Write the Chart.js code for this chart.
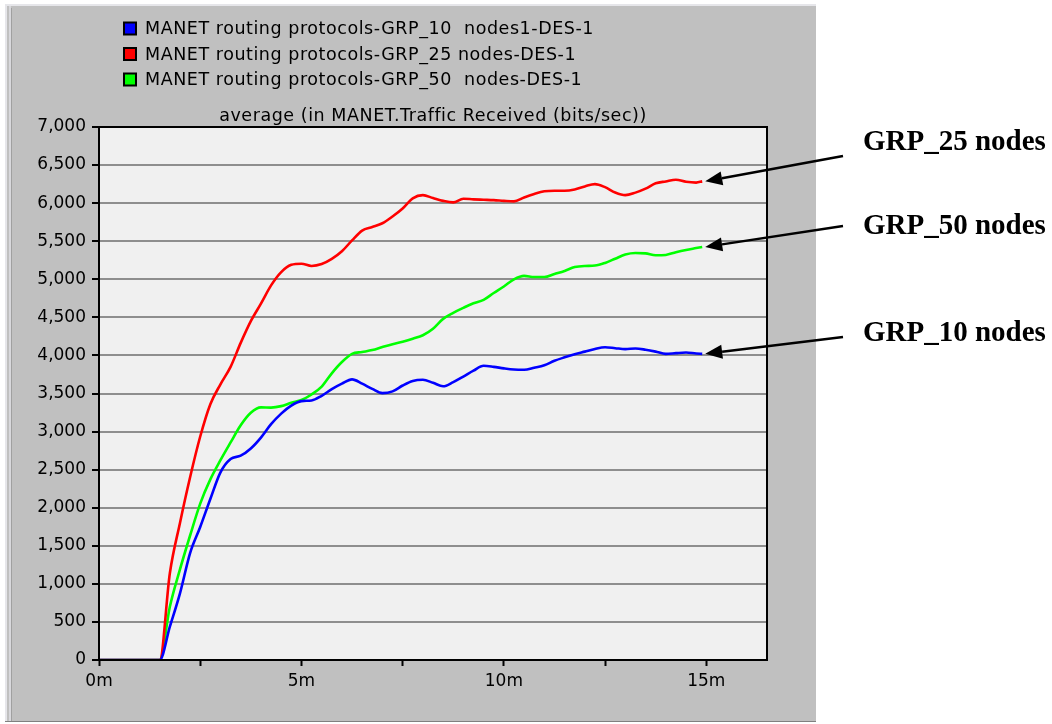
<!DOCTYPE html>
<html>
<head>
<meta charset="utf-8">
<script src="https://cdn.jsdelivr.net/npm/chart.js@4/dist/chart.umd.min.js"></script>
<style>
html,body{margin:0;padding:0;background:#fff;}
#wrap{position:relative;width:1052px;height:724px;}
</style>
</head>
<body>
<div id="wrap"><canvas id="c" width="1052" height="724"></canvas></div>
<script>
// ---- data (time in minutes, values in bits/sec) ----
const times = [0,0.25,0.5,0.75,1,1.25,1.5,1.75,2,2.25,2.5,2.75,3,3.25,3.5,3.75,4,4.25,4.5,4.75,5,5.25,5.5,5.75,6,6.25,6.5,6.75,7,7.25,7.5,7.75,8,8.25,8.5,8.75,9,9.25,9.5,9.75,10,10.25,10.5,10.75,11,11.25,11.5,11.75,12,12.25,12.5,12.75,13,13.25,13.5,13.75,14,14.25,14.5,14.75,14.9];

const grp10 = [0,0,0,0,0,0,0,438,876,1405,1747,2115,2465,2640,2683,2778,2921,3097,3236,3342,3400,3408,3470,3558,3630,3685,3630,3560,3505,3528,3605,3665,3680,3640,3595,3650,3723,3800,3864,3850,3830,3815,3812,3838,3870,3930,3975,4015,4050,4085,4107,4095,4083,4091,4075,4050,4020,4030,4038,4025,4021];

const grp25 = [0,0,0,0,0,0,0,1140,1800,2400,2935,3360,3620,3850,4165,4450,4680,4920,5095,5190,5205,5175,5200,5268,5368,5511,5640,5686,5736,5825,5930,6063,6105,6067,6030,6010,6058,6050,6045,6040,6030,6023,6075,6120,6155,6163,6163,6180,6220,6250,6210,6140,6105,6138,6190,6260,6285,6307,6280,6270,6286];

const grp50 = [0,0,0,0,0,0,0,700,1190,1635,2054,2372,2624,2857,3083,3247,3318,3315,3334,3378,3415,3487,3590,3765,3913,4020,4045,4070,4110,4148,4180,4220,4265,4350,4480,4560,4625,4685,4730,4820,4905,5000,5045,5030,5030,5070,5110,5160,5175,5180,5215,5270,5325,5345,5340,5315,5320,5355,5385,5410,5425];

const seriesLabels = [
  "MANET routing protocols-GRP_10  nodes1-DES-1",
  "MANET routing protocols-GRP_25 nodes-DES-1",
  "MANET routing protocols-GRP_50  nodes-DES-1"
];
const seriesColors = ["#0000ff", "#ff0000", "#00ff00"];
const chartTitle = "average (in MANET.Traffic Received (bits/sec))";
const annotationTexts = ["GRP_25 nodes", "GRP_50 nodes", "GRP_10 nodes"];
const annotationSeries = [1, 2, 0];
const xTickLabels = {0: "0m", 5: "5m", 10: "10m", 15: "15m"};

const UI_FONT = "'DejaVu Sans', Verdana, sans-serif";

function pts(vals){ return times.map((t,i)=>({x:t, y:vals[i]})); }

const decorPlugin = {
  id: 'decor',
  beforeDraw(chart){
    const ctx = chart.ctx, a = chart.chartArea;
    ctx.save();
    ctx.fillStyle = '#ffffff';
    ctx.fillRect(0,0,chart.width,chart.height);
    // grey window panel
    ctx.fillStyle = '#c0c0c0';
    ctx.fillRect(5,4,811,718);
    ctx.fillStyle = '#e6e6ea';
    ctx.fillRect(5,4,811,2);
    ctx.fillRect(5,4,2,718);
    ctx.fillStyle = '#d8d8dc';
    ctx.fillRect(9,6,2,716);
    ctx.fillStyle = '#a0a0a0';
    ctx.fillRect(11,8,1,714);
    ctx.fillStyle = '#808080';
    ctx.fillRect(5,721,811,1);
    // plot background
    ctx.fillStyle = '#f0f0f0';
    ctx.fillRect(a.left, a.top, a.right-a.left, a.bottom-a.top);
    ctx.restore();
  },
  afterDatasetsDraw(chart){
    const ctx = chart.ctx, a = chart.chartArea;
    ctx.save();
    ctx.strokeStyle = '#000';
    ctx.lineWidth = 2;
    ctx.strokeRect(a.left, a.top, a.right-a.left, a.bottom-a.top);
    ctx.restore();
  },
  afterDraw(chart){
    const ctx = chart.ctx, a = chart.chartArea;
    const xs = chart.scales.x, ys = chart.scales.y;
    ctx.save();
    // legend
    ctx.font = '17.5px ' + UI_FONT;
    if ('letterSpacing' in ctx) ctx.letterSpacing = '0.55px';
    ctx.textBaseline = 'middle';
    ctx.textAlign = 'left';
    chart.data.datasets.forEach((ds, i) => {
      const cy = 28.5 + i*25.5;
      ctx.fillStyle = '#000';
      ctx.fillRect(123, cy-7, 14, 14);
      ctx.fillStyle = ds.borderColor;
      ctx.fillRect(125, cy-5, 10, 10);
      ctx.fillStyle = '#000';
      ctx.fillText(ds.label, 145, cy+1);
    });
    // title
    ctx.font = '17.5px ' + UI_FONT;
    ctx.textAlign = 'center';
    ctx.fillText(chartTitle, (a.left+a.right)/2, 116);
    if ('letterSpacing' in ctx) ctx.letterSpacing = '0px';
    // annotations
    ctx.font = 'bold 29px "Liberation Serif", "Times New Roman", serif';
    ctx.textAlign = 'left';
    ctx.textBaseline = 'alphabetic';
    const textBase = [150, 234, 341];
    const arrowStart = [[843,156],[843,226],[843,337]];
    annotationTexts.forEach((txt, k) => {
      ctx.fillStyle = '#000';
      ctx.fillText(txt, 863, textBase[k]);
      const vals = chart.data.datasets[annotationSeries[k]].data;
      const last = vals[vals.length-1];
      const tx = xs.getPixelForValue(last.x) + 3;
      const ty = ys.getPixelForValue(last.y);
      const [sx, sy] = arrowStart[k];
      const ang = Math.atan2(ty-sy, tx-sx);
      const hl = 17, hw = 7;
      const bx = tx - hl*Math.cos(ang), by = ty - hl*Math.sin(ang);
      ctx.strokeStyle = '#000';
      ctx.lineWidth = 2.5;
      ctx.beginPath();
      ctx.moveTo(sx, sy);
      ctx.lineTo(bx, by);
      ctx.stroke();
      ctx.beginPath();
      ctx.moveTo(tx, ty);
      ctx.lineTo(bx + hw*Math.sin(ang), by - hw*Math.cos(ang));
      ctx.lineTo(bx - hw*Math.sin(ang), by + hw*Math.cos(ang));
      ctx.closePath();
      ctx.fill();
    });
    ctx.restore();
  }
};

new Chart(document.getElementById('c'), {
  type: 'line',
  data: {
    datasets: [0,1,2].map(i => ({
      label: seriesLabels[i],
      data: pts([grp10, grp25, grp50][i]),
      borderColor: seriesColors[i],
      backgroundColor: seriesColors[i],
      borderWidth: 2.6,
      pointRadius: 0,
      fill: false,
      cubicInterpolationMode: 'monotone'
    }))
  },
  options: {
    responsive: false,
    animation: false,
    events: [],
    layout: { padding: { left: 0, top: 127, right: 285, bottom: 0 } },
    plugins: { legend: { display: false }, title: { display: false }, tooltip: { enabled: false } },
    scales: {
      x: {
        type: 'linear',
        min: 0, max: 16.5,
        afterFit(s){ s.height = 64; },
        border: { display: true, color: '#000', width: 2 },
        grid: { drawOnChartArea: false, drawTicks: true, tickLength: 6, tickColor: '#000', tickWidth: 2 },
        ticks: {
          stepSize: 2.5, includeBounds: false, autoSkip: false, maxRotation: 0, padding: 5,
          color: '#000', font: { family: UI_FONT, size: 17 },
          callback(v){ return xTickLabels[v] !== undefined ? xTickLabels[v] : ''; }
        }
      },
      y: {
        min: 0, max: 7000,
        afterFit(s){ s.width = 99; },
        border: { display: true, color: '#000', width: 2 },
        grid: { color: '#8e8e8e', lineWidth: 2, tickLength: 7, tickColor: '#000', tickWidth: 2 },
        ticks: {
          stepSize: 500, autoSkip: false, padding: 6,
          color: '#000', font: { family: UI_FONT, size: 17 },
          callback(v){ return v.toLocaleString('en-US'); }
        }
      }
    }
  },
  plugins: [decorPlugin]
});
</script>
</body>
</html>
